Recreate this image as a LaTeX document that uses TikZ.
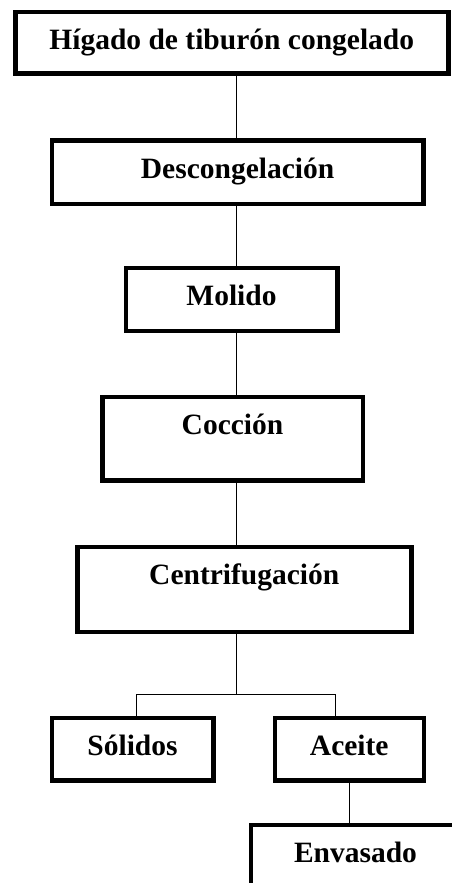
\documentclass[tikz,border=0pt]{standalone}
\usepackage{fontspec}
\setmainfont{Liberation Serif}
\usepackage{tikz}
\usetikzlibrary{calc,positioning}
\newcommand{\grosor}{4.5pt}
\newcommand{\altotexto}{37.5pt}
\tikzset{
    caja/.style={draw, line width=\grosor, inner sep=0pt, anchor=north west,
        text height=\altotexto, font=\fontsize{29.5pt}{35pt}\selectfont\bfseries},
    conector/.style={draw, line width=1pt}
}

\begin{document}
\begin{tikzpicture}[x=1pt, y=-1pt]
    \fill[white] (0,0) rectangle (451,883);
    \useasboundingbox (0,0) rectangle (451,883);
    %Cajas del proceso:
    \node[caja, minimum width=433pt, text depth=24.2pt] (higado) at (13,9.7) {Hígado de tiburón congelado};
    \node[caja, minimum width=371.3pt, text depth=25.8pt] (descong) at (49.7,138.4) {Descongelación};
    \node[caja, minimum width=211.5pt, text depth=25.4pt] (molido) at (123.5,265.8) {Molido};
    \node[caja, minimum width=260.5pt, text depth=46.1pt] (coccion) at (100,394.8) {Cocción};
    \node[caja, minimum width=334pt, text depth=47.5pt] (centrif) at (75,544.8) {Centrifugación};
    \node[caja, minimum width=161.5pt, text depth=25pt] (solidos) at (49.5,715.8) {Sólidos};
    \node[caja, minimum width=149pt, text depth=25pt] (aceite) at (272.5,715.8) {Aceite};
    \node[caja, minimum width=209.5pt, text depth=30pt] (envasado) at (248.5,822.5) {Envasado};

    %Conectores:
    \coordinate (eje) at (236.3,0);
    \draw[conector] (higado.south -| eje) -- (descong.north -| eje);
    \draw[conector] (descong.south -| eje) -- (molido.north -| eje);
    \draw[conector] (molido.south -| eje) -- (coccion.north -| eje);
    \draw[conector] (coccion.south -| eje) -- (centrif.north -| eje);
    %Rama de centrifugacion:
    \coordinate (rama) at (236.3,694);
    \coordinate (ramaizq) at (136,694);
    \coordinate (ramader) at (335,694);
    \draw[conector] (centrif.south -| eje) -- (rama);
    \draw[conector] (ramaizq |- solidos.north) -- (ramaizq) -- (ramader) -- (ramader |- aceite.north);
    \draw[conector] (aceite.south) -- (aceite.south |- envasado.north);
\end{tikzpicture}
\end{document}
